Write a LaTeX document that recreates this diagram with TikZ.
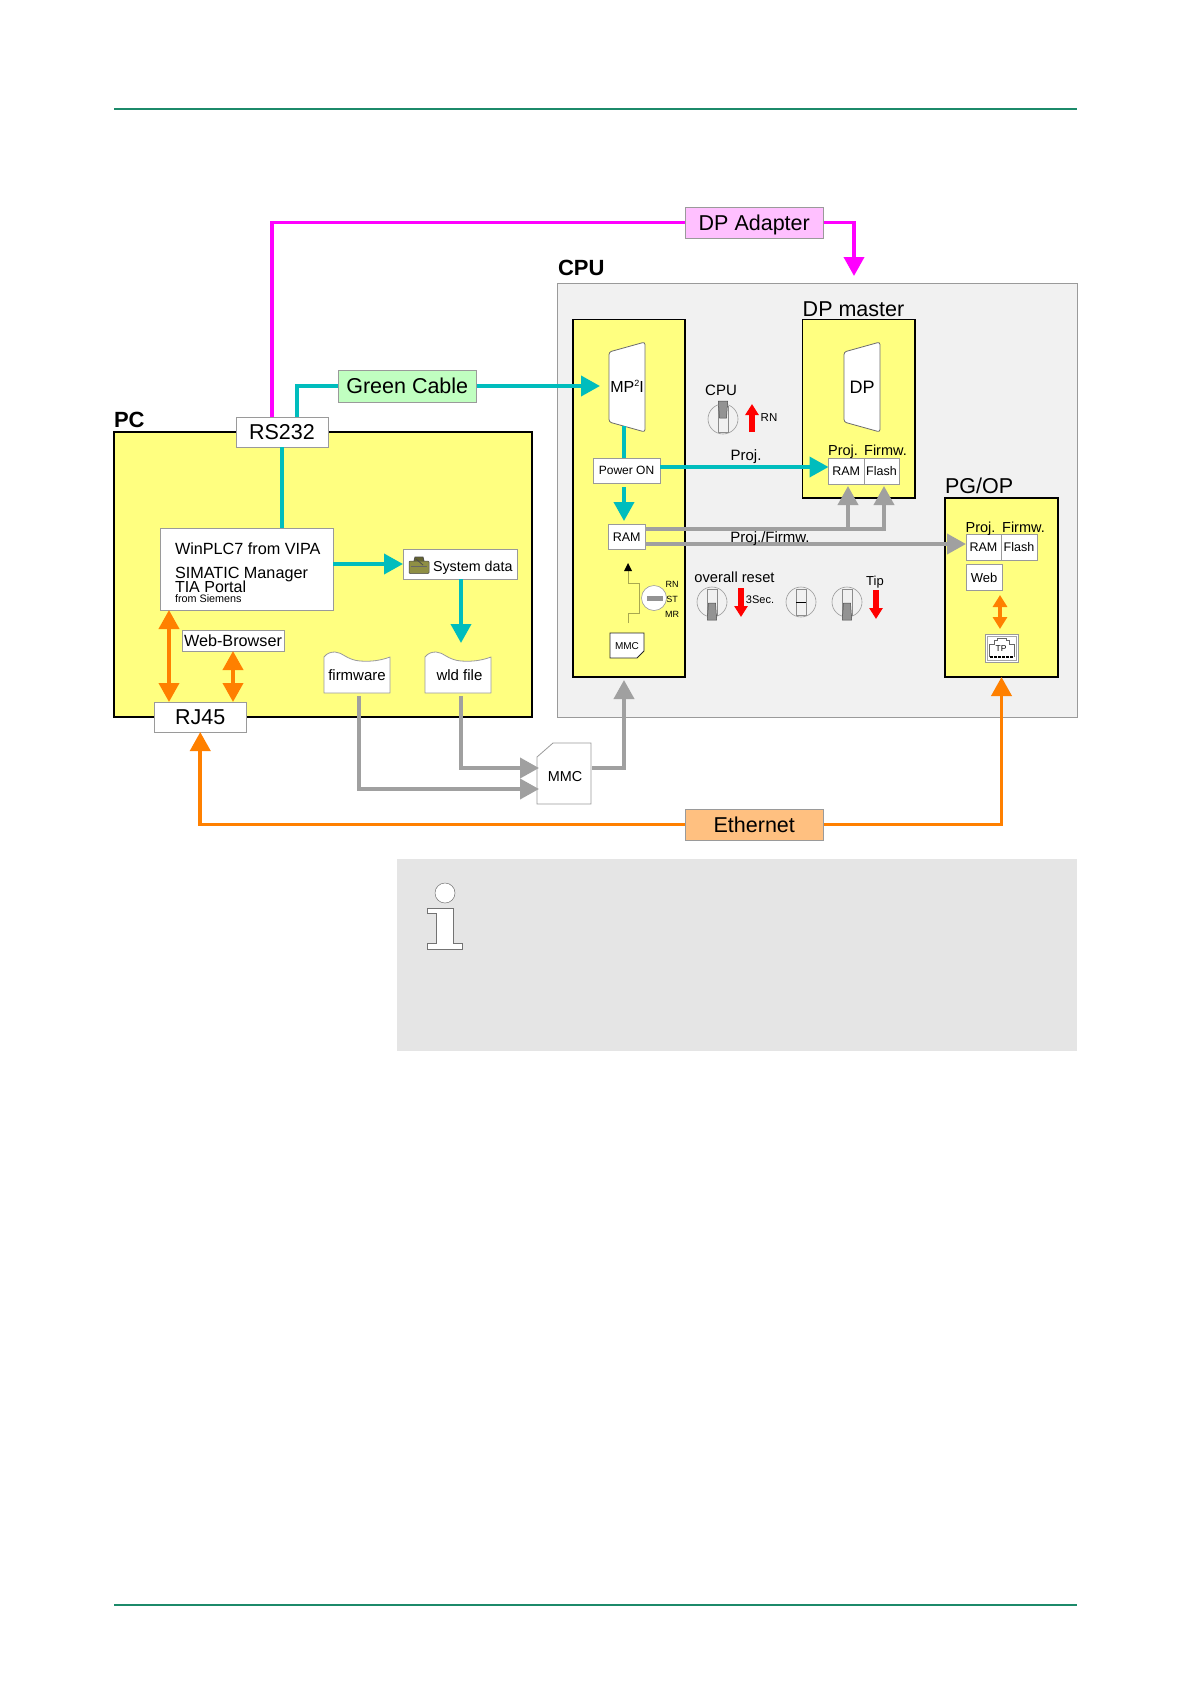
\documentclass[tikz,border=0pt]{standalone}
\usepackage{fontspec}
\setmainfont{Liberation Sans}
\usetikzlibrary{arrows.meta,calc}
\definecolor{yel}{HTML}{FFFF80}
\definecolor{teal2}{HTML}{00BDBD}
\definecolor{ora}{HTML}{FF8000}
\definecolor{mag}{HTML}{FF00FF}
\definecolor{gry}{HTML}{A0A0A0}
\definecolor{edge}{HTML}{9A9A9A}
\definecolor{rule}{HTML}{1C8A6A}
\definecolor{oliv}{HTML}{A8A850}
\newcommand\fs[1]{\fontsize{#1}{#1}\selectfont}
% \bx{name}{style}{x1}{y1}{x2}{y2}{text}
\newcommand\bx[7]{\node[#2,minimum width={#5-#3},minimum height={#6-#4}] (#1) at ({(#3+#5)/2},{(#4+#6)/2}) {#7};}
\tikzset{
  every node/.style={inner sep=0pt,outer sep=0pt,text=black},
  yelbox/.style={draw=black,line width=1.8pt,fill=yel},
  whitebox/.style={draw=edge,line width=0.8pt,fill=white},
  lbl/.style={font=\fs{14.5},anchor=base},
  link/.style={line width=3.8pt,line join=miter,-{Triangle[width=20pt,length=19pt]}},
  plain/.style={line width=3.8pt},
  teallink/.style={link,draw=teal2},
  grylink/.style={link,draw=gry},
  maglink/.style={link,draw=mag},
  orlink/.style={line width=3.8pt,draw=ora,{Triangle[width=20pt,length=19pt]}-{Triangle[width=20pt,length=19pt]}},
  orone/.style={line width=3.8pt,draw=ora,{Triangle[width=20pt,length=19pt]}-},
  redarrow/.style={line width=6pt,draw=red,-{Triangle[width=13pt,length=11pt]}},
  swdown/.pic={
    \draw[draw=edge,line width=0.6pt,fill=none] (0,0) circle (15);
    \draw[draw=black!45,line width=0.5pt] (-5,-13) rectangle (5,13);
    \draw[draw=black!70,fill=gray!85,line width=0.5pt] (-3.5,1) -- (3.5,1) -- (4.7,18) -- (-4.7,18) -- cycle;
  },
  swup/.pic={
    \draw[draw=edge,line width=0.6pt,fill=none] (0,0) circle (15);
    \draw[draw=black!45,line width=0.5pt] (-5,-13) rectangle (5,13);
    \draw[draw=black!70,fill=gray!85,line width=0.5pt] (-3.5,-1) -- (3.5,-1) -- (4.7,-18) -- (-4.7,-18) -- cycle;
  },
  swmid/.pic={
    \draw[draw=edge,line width=0.6pt,fill=none] (0,0) circle (15);
    \draw[draw=black!45,line width=0.5pt] (-5,-13) rectangle (5,13);
    \draw[draw=black,line width=0.8pt] (-5,0) -- (5,0);
  },
  filewave/.pic={
    \draw[draw=edge,line width=0.8pt,fill=white,line join=round]
      (0,41) -- (0,5) .. controls (3,1) and (7,0) .. (11,0)
      .. controls (18,0) and (23,8) .. (36,9)
      .. controls (48,10) and (58,8) .. (66,5) -- (66,41) -- cycle;
  },
}
\begin{document}
\begin{tikzpicture}[x=1pt,y=-1pt]
\fill[white] (0,0) rectangle (1191,1684);
\useasboundingbox (0,0) rectangle (1191,1684);

% page rules
\coordinate (ruleTL) at (114,108.9); \coordinate (ruleTR) at (1077,108.9);
\coordinate (ruleBL) at (114,1605); \coordinate (ruleBR) at (1077,1605);
\draw[rule,line width=1.9pt] (ruleTL) -- (ruleTR);
\draw[rule,line width=1.9pt] (ruleBL) -- (ruleBR);

% containers
\bx{cpu}{draw=edge,line width=0.7pt,fill=black!5.5}{557}{283.5}{1077}{717}{}
\bx{pc}{yelbox}{114}{432}{532}{717}{}
\bx{cpuy}{yelbox}{573}{319.5}{685}{677}{}
\bx{dpm}{yelbox}{802.5}{319.5}{915}{498}{}
\bx{pg}{yelbox}{945}{498}{1058}{677}{}

% titles
\node[font=\fs{22}\bfseries,anchor=west] (tPC) at (114,420) {PC};
\node[font=\fs{22}\bfseries,anchor=west] (tCPU) at (558,268) {CPU};
\node[font=\fs{21.5}] (tDP) at (853.5,309) {DP master};
\node[font=\fs{21.5},anchor=west] (tPG) at (945,486) {PG/OP};

% info box
\fill[black!10] (397,859) rectangle (1077,1051);
\draw[draw=black!55,line width=0.5pt,fill=white] (445,893) circle (10);
\draw[draw=black!55,line width=0.5pt,fill=white]
  (427,908) -- (453,908) -- (453,943) -- (462,943) -- (462,949) -- (427,949) -- (427,943) -- (436,943) -- (436,913) -- (427,913) -- cycle;

% boxes
\bx{rs}{whitebox,font=\fs{21.5}}{236}{417}{328}{447}{RS232}
\bx{rj}{whitebox,font=\fs{21.5}}{154}{702}{246.5}{732}{RJ45}
\bx{gc}{whitebox,fill={rgb,255:red,192;green,255;blue,192},font=\fs{21.5}}{338}{370}{476.5}{402}{Green Cable}
\bx{dpa}{whitebox,fill={rgb,255:red,255;green,192;blue,255},font=\fs{21.5},text depth=0pt}{685}{207}{823.5}{238}{DP Adapter}
\bx{eth}{whitebox,fill={rgb,255:red,255;green,192;blue,128},font=\fs{21.5}}{685}{809}{823.5}{840}{Ethernet}

\bx{win}{whitebox}{160}{528}{333}{610}{}
\node[font=\fs{16.2},anchor=west] (w1) at (175,549) {WinPLC7 from VIPA};
\node[font=\fs{16.2},anchor=west] (w2) at (175,574.5) {SIMATIC Manager};
\node[font=\fs{16},anchor=west] (w3) at (175,587) {TIA Portal};
\node[font=\fs{10.8},anchor=west] (w4) at (175,599) {from Siemens};
\bx{sys}{whitebox}{403}{549}{517}{579}{}
\node[font=\fs{14.3},anchor=west] (syst) at (433,567.5) {System data};
% briefcase icon
\draw[draw=black!70,fill=oliv!85!black,line width=0.5pt,rounded corners=1pt] (409,561) rectangle (429,573.5);
\draw[draw=black!70,fill=oliv!60!black,line width=0.8pt] (414,561) -- (415,557) -- (423,557) -- (424,561);
\draw[black!60,line width=0.7pt] (411,566) -- (427,566);
\draw[black!70,line width=0.8pt] (416,559) -- (423,565);

\bx{web}{whitebox,font=\fs{16.2}}{182}{630}{284}{651}{Web-Browser}

% file shapes
\pic at (324,652) {filewave};
\pic at (425,652) {filewave};
\node[font=\fs{15}] (fw) at (357,675.5) {firmware};
\node[font=\fs{15}] (wld) at (459.5,675.5) {wld file};
\coordinate (fwOut) at (359,696);
\coordinate (wldOut) at (461,696);

% MMC card
\draw[draw=edge,line width=0.8pt,fill=white] (537,757) -- (553,743) -- (591,743) -- (591,804) -- (537,804) -- cycle;
\node[font=\fs{14.4},minimum width=54,minimum height=61] (mmc) at (565,776.5) {MMC};

% CPU internals
\draw[draw=edge!70!black,line width=0.8pt,fill=white,rounded corners=2.5pt]
  (609,352) -- (645,342) -- (645,432) -- (609,422) -- cycle;
\node[font=\fs{16},minimum width=36,minimum height=78] (mpi) at (627,387) {MP\smash{\raisebox{0.4em}{\fs{9}2}}I};
\draw[draw=edge!70!black,line width=0.8pt,fill=white,rounded corners=2.5pt]
  (844,352) -- (880,342) -- (880,432) -- (844,422) -- cycle;
\node[font=\fs{18},minimum width=36,minimum height=78] (dpc) at (862,387) {DP};
\bx{pwr}{whitebox,font=\fs{12}}{593}{458}{660}{483}{Power ON}
\bx{ram}{whitebox,font=\fs{12.5}}{608.5}{524}{645}{549.5}{RAM}
\bx{dram}{whitebox,font=\fs{12.5}}{828.5}{458}{864}{484}{RAM}
\bx{dfl}{whitebox,font=\fs{12.5}}{864}{458}{899}{484}{Flash}
\bx{pram}{whitebox,font=\fs{12.5}}{966}{534.5}{1001}{560}{RAM}
\bx{pfl}{whitebox,font=\fs{12.5}}{1001}{534.5}{1037}{560}{Flash}
\bx{pweb}{whitebox,font=\fs{13}}{966}{564.5}{1002}{590.5}{Web}
\node[lbl] (dproj) at (843,455) {Proj.};
\node[lbl] (dfirm) at (885.5,455) {Firmw.};
\node[lbl] (pproj) at (980.5,532) {Proj.};
\node[lbl] (pfirm) at (1023.5,532) {Firmw.};

% TP socket
\bx{tp}{whitebox}{985}{634}{1018}{662}{}
\draw[draw=black!35,line width=0.5pt] (987,636) rectangle (1016,660);
\draw[draw=black!60,line width=0.5pt] (989,657) -- (989,644) -- (994,644) -- (994,640) -- (997,640) -- (997,638) -- (1006,638) -- (1006,640) -- (1009,640) -- (1009,644) -- (1014,644) -- (1014,657);
\node[font=\fs{8.5}] (tpt) at (1001,649) {TP};
\draw[black,line width=2pt,dash pattern=on 3pt off 1pt] (990,656.5) -- (1013,656.5);

% small MMC
\draw[draw=black!85,line width=0.9pt,fill=white] (610,633) -- (644,633) -- (644,651) -- (637,658) -- (610,658) -- cycle;
\node[font=\fs{10},minimum width=34,minimum height=25] (smmc) at (627,646.5) {MMC};

% mode switch in CPU
\node[draw=edge,line width=0.6pt,fill=white,circle,minimum size=25] (mode) at (654,598) {};
\fill[gray!85] (647,596) rectangle (663,601);
\node[font=\fs{9}] (mRN) at (672,584) {RN};
\node[font=\fs{9}] (mST) at (672,599) {ST};
\node[font=\fs{9}] (mMR) at (672,614) {MR};
\coordinate (stA) at (628,623); \coordinate (stB) at (628,613); \coordinate (stC) at (639,613);
\coordinate (stD) at (639,583); \coordinate (stE) at (628,583); \coordinate (stF) at (628,563);
\draw[draw=oliv,line width=0.8pt] (stA) -- (stB) -- (stC) -- (stD) -- (stE) -- (628,571);
\fill[black] (stF) -- (632,571) -- (624,571) -- cycle;

% switches and texts
\pic at (723,419) {swup};
\pic at (712,602) {swdown};
\pic at (801,602) {swmid};
\pic at (847,602) {swdown};
\node[font=\fs{15}] (sCPU) at (721,390) {CPU};
\node[font=\fs{11.5}] (sRN) at (769,418) {RN};
\node[font=\fs{14.7}] (sov) at (734.5,577) {overall reset};
\node[font=\fs{11}] (s3) at (760,600) {3Sec.};
\node[font=\fs{13}] (sTip) at (875,582.5) {Tip};
\coordinate (r1a) at (752,432); \coordinate (r1b) at (752,404);
\coordinate (r2a) at (741,588); \coordinate (r2b) at (741,617);
\coordinate (r3a) at (876,590); \coordinate (r3b) at (876,619);
\draw[redarrow] (r1a) -- (r1b);
\draw[redarrow] (r2a) -- (r2b);
\draw[redarrow] (r3a) -- (r3b);

% connectors: magenta
\coordinate (dpIn) at (854,276);
\draw[plain,mag] (272,0 |- rs.north) |- (dpa.west);
\draw[maglink] (dpa.east) -| (dpIn);

% connectors: teal
\coordinate (mpIn) at (600,386);
\draw[plain,teal2] (297,0 |- rs.north) |- (gc.west);
\draw[teallink] (gc.east) -- (mpIn);
\draw[plain,teal2] (282,0 |- rs.south) -- (282,0 |- win.north);
\draw[teallink] (win.east |- 0,564) -- (sys.west |- 0,564);
\coordinate (wldIn) at (461,643);
\draw[teallink] (461,0 |- sys.south) -- (wldIn);
\draw[plain,teal2] (624,0 |- mpi.south) -- (624,0 |- pwr.north);
\coordinate (ramIn) at (624,521);
\draw[teallink] (624,487) -- (ramIn);
\draw[teallink] (pwr.east |- 0,467) -- (dram.west |- 0,467);

% connectors: orange
\draw[orlink] (169,0 |- win.south) -- (169,0 |- rj.north);
\draw[orlink] (233,0 |- web.south) -- (233,0 |- rj.north);
\draw[orone] (rj.south) |- (eth.west);
\draw[orone] (pg.south) |- (eth.east);
\draw[line width=3.4pt,draw=ora,{Triangle[width=14pt,length=12pt]}-{Triangle[width=14pt,length=12pt]}] (1000,595) -- (1000,629);

% connectors: grey
\draw[grylink] (fwOut) |- (539,789);
\draw[grylink] (wldOut) |- (539,768);
\coordinate (cpuBelow) at (624,680);
\draw[grylink] (592,768) -| (cpuBelow);
\coordinate (dramBelow) at (848,486);
\coordinate (dflBelow) at (884,486);
\draw[plain,gry] (ram.east |- 0,529) -- (885.9,529);
\draw[grylink] (848,529) -- (dramBelow);
\draw[grylink] (884,531) -- (dflBelow);
\draw[grylink] (ram.east |- 0,544) -- (pram.west |- 0,544);

\node[font=\fs{15}] (pj) at (746,457) {Proj.};
\node[font=\fs{15}] (pf) at (770,539) {Proj./Firmw.};
\end{tikzpicture}
\end{document}
